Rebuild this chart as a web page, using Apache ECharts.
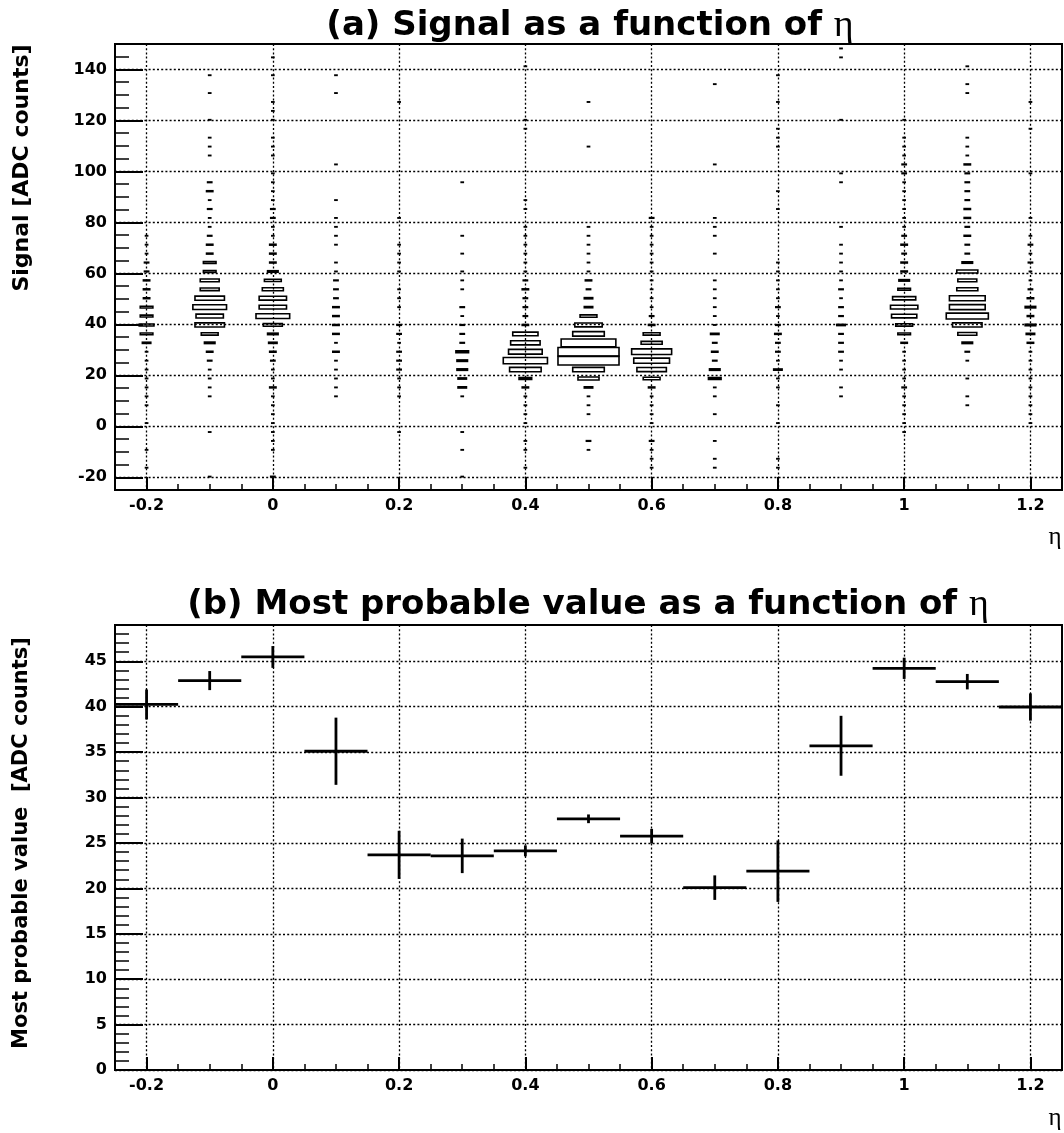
<!DOCTYPE html>
<html>
<head>
<meta charset="utf-8">
<script src="https://cdn.jsdelivr.net/npm/echarts@6/dist/echarts.min.js"></script>
<style>
  html, body { margin: 0; padding: 0; background: #fff; }
  #chart { width: 1064px; height: 1133px; }
</style>
</head>
<body>
<div id="chart"></div>
<script>
// ---------- binning ----------
const etaCenters = [-0.2, -0.1, 0, 0.1, 0.2, 0.3, 0.4, 0.5, 0.6, 0.7, 0.8, 0.9, 1.0, 1.1, 1.2];
const etaBinWidth = 0.1;
const signalMin = -25;          // lower edge of first signal bin
const signalBinWidth = 3.5;     // 50 bins from -25 to 150
const boxScaleMax = 30;         // content that fills a whole cell

// ---------- (a) entries per signal bin (index 0 = lowest bin), one array per eta bin ----------
const countsEtaM02 = [0,0,1,0,1,0,0,1,0,1, 1,1,1,1,1,1,4,6,7,6, 6,3,3,3,2,2,1,1,1,0, 0,0,0,0,0,0,0,0,0,0, 0,0,0,0,0,0,0,0,0,0];
const countsEtaM01 = [0,1,0,0,0,0,1,0,0,0, 1,1,1,1,2,3,5,8,14,13, 16,14,9,9,6,6,3,3,2,1, 1,2,1,3,2,0,0,1,1,1, 0,1,0,0,1,0,1,0,0,0];
const countsEta00  = [0,2,0,0,1,1,1,1,1,1, 1,3,1,1,2,3,4,5,9,16, 13,13,10,8,5,3,3,3,1,1, 2,2,1,1,1,1,0,1,1,1, 0,1,1,1,0,0,1,0,1,0];
const countsEta01  = [0,0,0,0,0,0,0,0,0,0, 1,1,1,1,1,3,1,3,3,3, 3,2,2,2,1,1,0,1,1,1, 1,0,1,0,0,0,1,0,0,0, 0,0,0,0,1,0,1,0,0,0];
const countsEta02  = [0,0,0,0,0,0,1,0,0,0, 1,1,1,2,2,2,1,2,2,0, 1,1,1,0,1,1,1,1,0,0, 1,0,0,0,0,0,0,0,0,0, 0,0,0,1,0,0,0,0,0,0];
const countsEta03  = [0,1,0,0,1,0,1,0,0,0, 1,4,4,5,5,6,2,2,2,1, 2,0,1,1,1,0,1,0,1,0, 0,0,0,0,1,0,0,0,0,0, 0,0,0,0,0,0,0,0,0,0];
const countsEta04  = [0,0,1,0,1,1,0,1,1,1, 1,3,6,15,21,16,14,12,3,2, 2,2,3,2,1,1,1,1,1,1, 0,1,1,0,0,0,0,0,0,0, 1,1,0,0,0,0,0,1,0,0];
const countsEta05  = [0,0,0,0,1,2,0,0,1,1, 1,4,10,15,29,29,26,15,13,8, 4,4,2,3,1,1,1,1,1,1, 0,0,0,0,0,0,0,0,1,0, 0,0,0,1,0,0,0,0,0,0];
const countsEta06  = [0,0,1,1,1,2,0,1,1,1, 1,3,8,14,17,19,10,8,3,2, 1,1,1,1,1,1,1,1,1,1, 2,0,0,0,0,0,0,0,0,0, 0,0,0,0,0,0,0,0,0,0];
const countsEta07  = [0,0,1,1,0,1,0,0,1,0, 1,1,6,5,2,3,2,4,1,1, 1,1,1,1,0,0,1,0,1,1, 1,0,0,0,0,0,1,0,0,0, 0,0,0,0,0,1,0,0,0,0];
const countsEta08  = [0,0,1,1,0,0,0,1,0,1, 0,1,1,4,1,2,2,3,2,1, 2,1,1,1,1,1,0,0,0,0, 0,1,0,1,0,0,0,0,1,1, 1,0,0,1,0,0,1,0,0,0];
const countsEta09  = [0,0,0,0,0,0,0,0,0,0, 1,1,0,1,1,2,2,2,4,2, 2,1,2,1,1,1,1,1,0,1, 0,0,0,0,1,1,0,0,0,0, 0,1,0,0,0,0,0,0,1,1];
const countsEta10  = [0,0,0,0,0,0,1,1,1,1, 1,2,1,1,1,1,3,6,8,12, 13,11,6,5,3,3,2,3,2,1, 1,1,1,1,1,2,2,1,1,1, 0,1,0,0,0,0,0,0,0,0];
const countsEta11  = [0,0,0,0,0,0,0,0,0,1, 1,0,1,0,1,2,5,9,14,20, 17,17,10,9,10,5,2,2,3,2, 3,3,2,2,2,2,3,1,1,1, 0,0,0,0,1,1,0,1,0,0];
const countsEta12  = [0,0,0,0,0,0,0,1,1,1, 1,1,1,1,1,1,3,4,5,3, 5,3,2,1,1,2,1,2,1,0, 1,0,0,0,0,1,0,0,0,0, 1,0,0,1,0,0,0,0,0,0];

// ---------- (b) most probable value per eta bin ----------
const mpv    = [40.25, 42.88, 45.48, 35.1, 23.69, 23.58, 24.13, 27.66, 25.75, 20.08, 21.89, 35.7, 44.23, 42.76, 39.97];
const mpvErr = [1.65, 1.05, 1.2, 3.7, 2.65, 1.9, 0.6, 0.48, 0.8, 1.35, 3.38, 3.3, 1.17, 0.85, 1.5];

// ---------- tick labels ----------
const etaTicks = [-0.2, 0, 0.2, 0.4, 0.6, 0.8, 1, 1.2];
const signalTicks = [-20, 0, 20, 40, 60, 80, 100, 120, 140];
const mpvTicks = [0, 5, 10, 15, 20, 25, 30, 35, 40, 45];

// ---------- build series data ----------
const signalCounts = [countsEtaM02, countsEtaM01, countsEta00, countsEta01, countsEta02, countsEta03,
  countsEta04, countsEta05, countsEta06, countsEta07, countsEta08, countsEta09, countsEta10, countsEta11, countsEta12];
const boxData = [];
signalCounts.forEach((col, c) => {
  col.forEach((n, i) => {
    if (n > 0) boxData.push([etaCenters[c], signalMin + signalBinWidth * (i + 0.5), n]);
  });
});
const mpvData = etaCenters.map((e, i) => [e, mpv[i], mpvErr[i]]);

// ---------- styling helpers ----------
const labelFont = { color: '#000', fontFamily: 'DejaVu Sans', fontWeight: 'bold', fontSize: 16 };
const gridLine = { show: true, lineStyle: { color: '#000', width: 1.3, type: [2, 2.2] } };

function majorX(g) {
  return {
    type: 'value', gridIndex: g, position: 'bottom', min: -0.25, max: 1.25,
    axisLine: { show: true, onZero: false, lineStyle: { color: '#000', width: 2 } },
    axisTick: { show: true, inside: true, length: 13, customValues: etaTicks, lineStyle: { color: '#000', width: 2 } },
    axisLabel: Object.assign({ show: true, margin: 8, customValues: etaTicks,
      formatter: v => String(Math.round(v * 10) / 10) }, labelFont),
    splitLine: gridLine
  };
}
function minorX(g) {
  return {
    type: 'value', gridIndex: g, position: 'bottom', min: -0.25, max: 1.25, interval: 0.05,
    axisLine: { show: false, onZero: false },
    axisTick: { show: true, inside: true, length: 6, lineStyle: { color: '#000', width: 1.5 } },
    axisLabel: { show: false }, splitLine: { show: false }
  };
}
function majorY(g, min, max, ticks) {
  return {
    type: 'value', gridIndex: g, position: 'left', min: min, max: max,
    axisLine: { show: true, onZero: false, lineStyle: { color: '#000', width: 2 } },
    axisTick: { show: true, inside: true, length: 28, customValues: ticks, lineStyle: { color: '#000', width: 2 } },
    axisLabel: Object.assign({ show: true, margin: 8, customValues: ticks }, labelFont),
    splitLine: gridLine
  };
}
function minorY(g, min, max, step) {
  return {
    type: 'value', gridIndex: g, position: 'left', min: min, max: max, interval: step,
    axisLine: { show: false, onZero: false },
    axisTick: { show: true, inside: true, length: 14, lineStyle: { color: '#000', width: 1.5 } },
    axisLabel: { show: false }, splitLine: { show: false }
  };
}

const titleRich = {
  a: { fontFamily: 'DejaVu Sans', fontWeight: 'bold', fontSize: 34, fill: '#000' },
  e: { fontFamily: 'Liberation Serif', fontWeight: 'normal', fontSize: 38, fill: '#000' }
};

const chart = echarts.init(document.getElementById('chart'), null, { renderer: 'canvas' });
chart.setOption({
  backgroundColor: '#fff',
  animation: false,
  grid: [
    { left: 115, right: 2, top: 44, height: 446, show: true, borderColor: '#000', borderWidth: 2, backgroundColor: 'transparent' },
    { left: 115, right: 2, top: 625, height: 445, show: true, borderColor: '#000', borderWidth: 2, backgroundColor: 'transparent' }
  ],
  xAxis: [majorX(0), minorX(0), majorX(1), minorX(1)],
  yAxis: [majorY(0, -25, 150, signalTicks), minorY(0, -25, 150, 5), majorY(1, 0, 49, mpvTicks), minorY(1, 0, 49, 1)],
  graphic: [
    { type: 'text', x: 590, y: 26, style: { text: '{a|(a) Signal as a function of }{e|η}', rich: titleRich, align: 'center', verticalAlign: 'middle' } },
    { type: 'text', x: 588, y: 605, style: { text: '{a|(b) Most probable value as a function of }{e|η}', rich: titleRich, align: 'center', verticalAlign: 'middle' } },
    { type: 'text', x: 22, y: 168, rotation: Math.PI / 2,
      style: { text: 'Signal [ADC counts]', fill: '#000', font: 'bold 22px "DejaVu Sans"', align: 'center', verticalAlign: 'middle' } },
    { type: 'text', x: 22, y: 843, rotation: Math.PI / 2,
      style: { text: 'Most probable value  [ADC counts]', fill: '#000', font: 'bold 21px "DejaVu Sans"', align: 'center', verticalAlign: 'middle' } },
    { type: 'text', x: 1055, y: 537, style: { text: 'η', fill: '#000', font: '25px "Liberation Serif"', align: 'center', verticalAlign: 'middle' } },
    { type: 'text', x: 1055, y: 1118, style: { text: 'η', fill: '#000', font: '25px "Liberation Serif"', align: 'center', verticalAlign: 'middle' } }
  ],
  series: [
    {
      type: 'custom', xAxisIndex: 0, yAxisIndex: 0, clip: true, silent: true,
      encode: { x: 0, y: 1 },
      data: boxData,
      renderItem: function (params, api) {
        const r = api.value(2) / boxScaleMax;
        const c = api.coord([api.value(0), api.value(1)]);
        const s = api.size([etaBinWidth, signalBinWidth]);
        const w = s[0] * r, h = s[1] * r;
        return { type: 'rect', shape: { x: c[0] - w / 2, y: c[1] - h / 2, width: w, height: h },
          style: { fill: 'none', stroke: '#000', lineWidth: 1.6 } };
      }
    },
    {
      type: 'custom', xAxisIndex: 2, yAxisIndex: 2, clip: true, silent: true,
      encode: { x: 0, y: 1 },
      data: mpvData,
      renderItem: function (params, api) {
        const x = api.value(0), y = api.value(1), e = api.value(2);
        const l = api.coord([x - etaBinWidth / 2, y]);
        const rgt = api.coord([x + etaBinWidth / 2, y]);
        const lo = api.coord([x, y - e]);
        const hi = api.coord([x, y + e]);
        const st = { stroke: '#000', lineWidth: 2.8 };
        return { type: 'group', children: [
          { type: 'line', shape: { x1: l[0], y1: l[1], x2: rgt[0], y2: rgt[1] }, style: st },
          { type: 'line', shape: { x1: lo[0], y1: lo[1], x2: hi[0], y2: hi[1] }, style: st }
        ] };
      }
    }
  ]
});
</script>
</body>
</html>
